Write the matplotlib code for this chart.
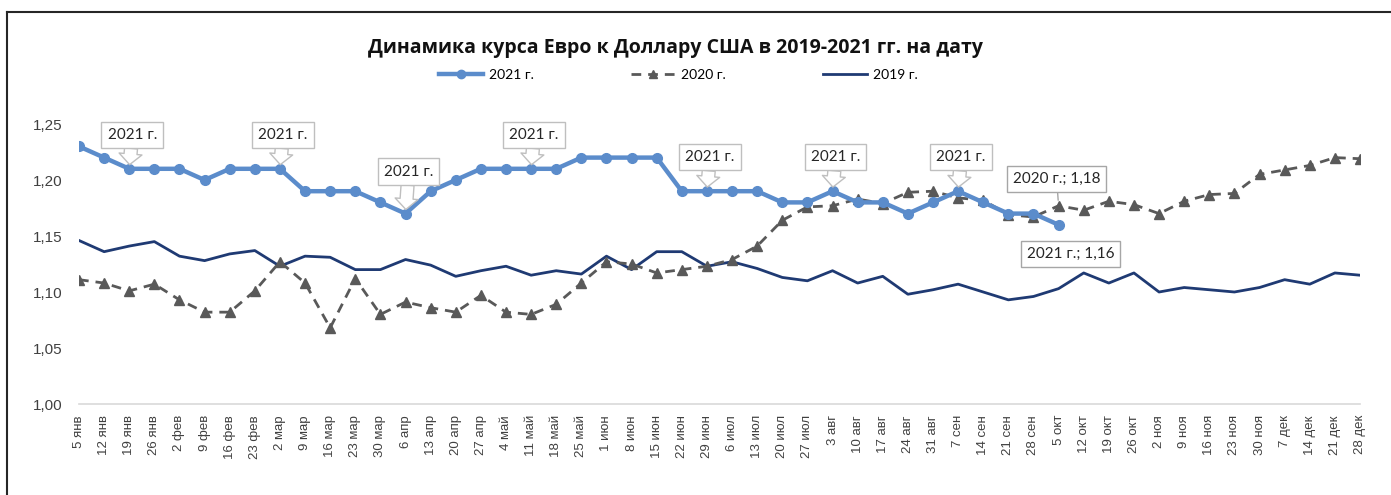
import matplotlib.pyplot as plt
from matplotlib.lines import Line2D
from matplotlib.ticker import FuncFormatter

# weekly dates
dates = ["5 янв", "12 янв", "19 янв", "26 янв", "2 фев", "9 фев", "16 фев", "23 фев",
         "2 мар", "9 мар", "16 мар", "23 мар", "30 мар", "6 апр", "13 апр", "20 апр",
         "27 апр", "4 май", "11 май", "18 май", "25 май", "1 июн", "8 июн", "15 июн",
         "22 июн", "29 июн", "6 июл", "13 июл", "20 июл", "27 июл", "3 авг", "10 авг",
         "17 авг", "24 авг", "31 авг", "7 сен", "14 сен", "21 сен", "28 сен", "5 окт",
         "12 окт", "19 окт", "26 окт", "2 ноя", "9 ноя", "16 ноя", "23 ноя", "30 ноя",
         "7 дек", "14 дек", "21 дек", "28 дек"]

eur_2021 = [1.23, 1.22, 1.21, 1.21, 1.21, 1.20, 1.21, 1.21, 1.21, 1.19, 1.19, 1.19,
            1.18, 1.17, 1.19, 1.20, 1.21, 1.21, 1.21, 1.21, 1.22, 1.22, 1.22, 1.22,
            1.19, 1.19, 1.19, 1.19, 1.18, 1.18, 1.19, 1.18, 1.18, 1.17, 1.18, 1.19,
            1.18, 1.17, 1.17, 1.16]

eur_2020 = [1.111, 1.108, 1.101, 1.107, 1.093, 1.082, 1.082, 1.101, 1.127, 1.108,
            1.068, 1.112, 1.080, 1.091, 1.086, 1.082, 1.097, 1.082, 1.080, 1.089,
            1.108, 1.127, 1.125, 1.117, 1.120, 1.123, 1.129, 1.141, 1.164, 1.176,
            1.177, 1.183, 1.179, 1.189, 1.190, 1.184, 1.182, 1.169, 1.167, 1.177,
            1.173, 1.181, 1.178, 1.170, 1.181, 1.187, 1.188, 1.205, 1.209, 1.213,
            1.220, 1.219]

eur_2019 = [1.146, 1.136, 1.141, 1.145, 1.132, 1.128, 1.134, 1.137, 1.123, 1.132,
            1.131, 1.120, 1.120, 1.129, 1.124, 1.114, 1.119, 1.123, 1.115, 1.119,
            1.116, 1.132, 1.120, 1.136, 1.136, 1.123, 1.127, 1.121, 1.113, 1.110,
            1.119, 1.108, 1.114, 1.098, 1.102, 1.107, 1.100, 1.093, 1.096, 1.103,
            1.117, 1.108, 1.117, 1.100, 1.104, 1.102, 1.100, 1.104, 1.111, 1.107,
            1.117, 1.115]

callout_idx = [2, 8, 13, 18, 25, 30, 35]

c2021 = "#5B8CCB"
c2020 = "#595959"
c2019 = "#1F3A73"
txt_font = ["Lato", "DejaVu Sans"]
tick_font = ["Liberation Sans", "DejaVu Sans"]

fig = plt.figure(figsize=(13.91, 4.95), dpi=100)
W, H = 1391, 495
ax = fig.add_axes([79 / W, (H - 404) / H, (1360 - 79) / W, (404 - 124) / H])

x_all = list(range(len(dates)))
ax.plot(x_all, eur_2019, color=c2019, lw=2, zorder=2, label="2019 г.")
ax.plot(x_all, eur_2020, color=c2020, lw=2, ls=(0, (3.5, 2.5)), marker="^", ms=7,
        zorder=3, label="2020 г.")
ax.plot(x_all[:len(eur_2021)], eur_2021, color=c2021, lw=3.2, marker="o", ms=7,
        zorder=4, label="2021 г.")

ax.set_xlim(0, len(dates) - 1)
ax.set_ylim(1.0, 1.25)
ax.set_yticks([1.00, 1.05, 1.10, 1.15, 1.20, 1.25])
ax.yaxis.set_major_formatter(FuncFormatter(lambda v, p: f"{v:.2f}".replace(".", ",")))
ax.set_xticks(x_all)
ax.set_xticklabels(dates, rotation=90, fontsize=9.5, family=tick_font)
for lbl in ax.get_yticklabels():
    lbl.set_fontsize(11)
    lbl.set_family(tick_font)
ax.tick_params(axis="x", length=0, pad=8, colors="#404040")
ax.tick_params(axis="y", length=0, pad=12, colors="#404040")
for s in ["top", "right", "left"]:
    ax.spines[s].set_visible(False)
ax.spines["bottom"].set_color("#D9D9D9")
ax.spines["bottom"].set_linewidth(1.2)

# "2021 г." callouts
for i in callout_idx:
    off = 42 if i == 13 else 34
    ax.annotate("2021 г.", xy=(i, eur_2021[i]), xytext=(3, off), textcoords="offset pixels",
                ha="center", va="center", fontsize=11, family=txt_font, color="#262626",
                bbox=dict(boxstyle="square,pad=0.4", fc="white", ec="#BFBFBF", lw=1),
                arrowprops=dict(arrowstyle="simple,head_length=0.7,head_width=1.5,tail_width=0.85",
                                fc="white", ec="#BFBFBF", lw=1, shrinkA=0, shrinkB=3),
                zorder=6)

last = len(eur_2021) - 1
ax.annotate("2020 г.; 1,18", xy=(last, eur_2020[last]), xytext=(-2, 27),
            textcoords="offset pixels", ha="center", va="center", fontsize=11,
            family=txt_font, color="#262626",
            bbox=dict(boxstyle="square,pad=0.4", fc="white", ec="#A6A6A6", lw=1),
            arrowprops=dict(arrowstyle="-", color="#A6A6A6", lw=1, shrinkA=0, shrinkB=4),
            zorder=6)
ax.annotate("2021 г.; 1,16", xy=(last, eur_2021[last]), xytext=(12, -29),
            textcoords="offset pixels", ha="center", va="center", fontsize=11,
            family=txt_font, color="#262626",
            bbox=dict(boxstyle="square,pad=0.4", fc="white", ec="#A6A6A6", lw=1),
            zorder=6)

fig.text(675 / W, 1 - 48 / H, "Динамика курса Евро к Доллару США в 2019-2021 гг. на дату",
         ha="center", va="center", fontsize=14, fontweight="bold",
         family=["Open Sans", "DejaVu Sans"], color="#111111")

handles = [
    Line2D([], [], color=c2021, lw=3.2, marker="o", ms=6),
    Line2D([], [], color=c2020, lw=2, ls=(0, (3.5, 2.5)), marker="^", ms=6),
    Line2D([], [], color=c2019, lw=2),
]
fig.legend(handles, ["2021 г.", "2020 г.", "2019 г."], loc="center",
           bbox_to_anchor=(678 / W, 1 - 75 / H), ncol=3, frameon=False,
           prop={"family": txt_font, "size": 10}, handlelength=3.2,
           columnspacing=7, handletextpad=0.4)

# outer frame (cut off on the right and bottom)
fig.add_artist(Line2D([7 / W, 7 / W], [0, 1 - 12 / H], color="#262626", lw=1.5))
fig.add_artist(Line2D([7 / W, 1], [1 - 12 / H, 1 - 12 / H], color="#262626", lw=1.5))

fig.savefig("out.png", dpi=100, facecolor="white")
